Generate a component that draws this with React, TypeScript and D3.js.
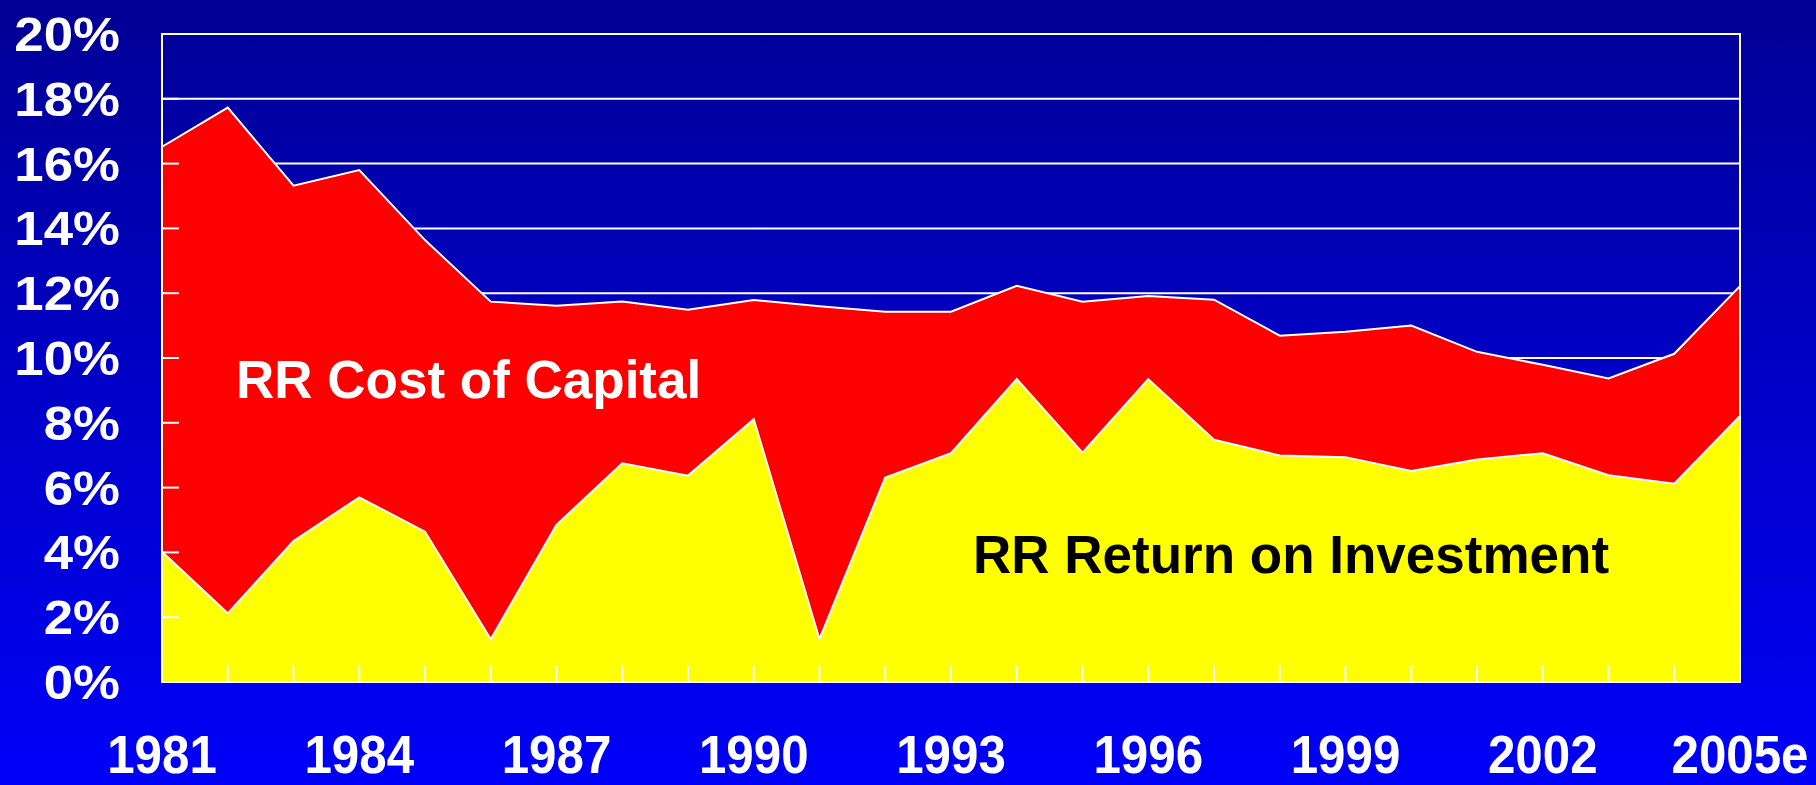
import React, { useEffect, useRef } from 'react';
import * as d3 from 'd3';

// years on the x axis (last one is an estimate)
const years = [
  '1981', '1982', '1983', '1984', '1985', '1986', '1987', '1988', '1989', '1990',
  '1991', '1992', '1993', '1994', '1995', '1996', '1997', '1998', '1999', '2000',
  '2001', '2002', '2003', '2004', '2005e',
];

// railroad cost of capital, %
const costOfCapital = [
  16.52, 17.73, 15.32, 15.8, 13.64, 11.74, 11.61, 11.74, 11.49, 11.79,
  11.6, 11.43, 11.43, 12.23, 11.74, 11.91, 11.8, 10.69, 10.81, 11.0,
  10.19, 9.79, 9.37, 10.13, 12.22,
];

// railroad return on investment, %
const returnOnInvestment = [
  4.02, 2.12, 4.35, 5.7, 4.64, 1.32, 4.85, 6.75, 6.37, 8.11,
  1.32, 6.31, 7.06, 9.35, 7.08, 9.35, 7.48, 6.99, 6.94, 6.51,
  6.87, 7.06, 6.38, 6.12, 8.21,
];

const yTicks = [0, 2, 4, 6, 8, 10, 12, 14, 16, 18, 20];
const labelEvery = 3;

const W = 1816;
const H = 785;

const App: React.FC = () => {
  const svgRef = useRef<SVGSVGElement>(null);

  useEffect(() => {
    if (!svgRef.current) return;
    const margin = { top: 34, right: 76, bottom: 103, left: 162 };
    const svg = d3.select(svgRef.current);
    svg.selectAll('*').remove();

    const defs = svg.append('defs');
    const grad = defs.append('linearGradient')
      .attr('id', 'bg').attr('x1', 0).attr('y1', 0).attr('x2', 0).attr('y2', 1);
    grad.append('stop').attr('offset', '0%').attr('stop-color', '#000094');
    grad.append('stop').attr('offset', '45%').attr('stop-color', '#0000c4');
    grad.append('stop').attr('offset', '100%').attr('stop-color', '#0000f8');

    svg.append('rect').attr('width', W).attr('height', H).attr('fill', 'url(#bg)');

    const x = d3.scalePoint<string>()
      .domain(years)
      .range([margin.left, W - margin.right]);

    const y = d3.scaleLinear()
      .domain([0, 20])
      .range([H - margin.bottom, margin.top]);

    const data = years.map((yr, i) => ({ yr, coc: costOfCapital[i], roi: returnOnInvestment[i] }));

    // gridlines (behind the areas)
    svg.append('g')
      .selectAll('line')
      .data(yTicks)
      .join('line')
      .attr('x1', x.range()[0])
      .attr('x2', x.range()[1])
      .attr('y1', d => y(d))
      .attr('y2', d => y(d))
      .attr('stroke', '#fff')
      .attr('stroke-width', 2);

    const cocArea = d3.area<typeof data[number]>()
      .x(d => x(d.yr)!)
      .y0(y(0))
      .y1(d => y(d.coc));
    const roiArea = d3.area<typeof data[number]>()
      .x(d => x(d.yr)!)
      .y0(y(0))
      .y1(d => y(d.roi));

    svg.append('path').datum(data).attr('d', cocArea).attr('fill', '#ff0000');
    svg.append('path').datum(data).attr('d', roiArea).attr('fill', '#ffff00');

    const cocLine = d3.line<typeof data[number]>().x(d => x(d.yr)!).y(d => y(d.coc));
    const roiLine = d3.line<typeof data[number]>().x(d => x(d.yr)!).y(d => y(d.roi));
    svg.append('path').datum(data).attr('d', cocLine)
      .attr('fill', 'none').attr('stroke', '#fff').attr('stroke-width', 2);
    svg.append('path').datum(data).attr('d', roiLine)
      .attr('fill', 'none').attr('stroke', '#fff').attr('stroke-width', 2);

    // frame
    svg.append('rect')
      .attr('x', x.range()[0])
      .attr('y', y(20))
      .attr('width', x.range()[1] - x.range()[0])
      .attr('height', y(0) - y(20))
      .attr('fill', 'none')
      .attr('stroke', '#fff')
      .attr('stroke-width', 2);

    // inward tick marks
    svg.append('g')
      .selectAll('line')
      .data(yTicks)
      .join('line')
      .attr('x1', x.range()[0])
      .attr('x2', x.range()[0] + 17)
      .attr('y1', d => y(d))
      .attr('y2', d => y(d))
      .attr('stroke', '#fff')
      .attr('stroke-width', 2);

    svg.append('g')
      .selectAll('line')
      .data(years)
      .join('line')
      .attr('x1', d => x(d)!)
      .attr('x2', d => x(d)!)
      .attr('y1', y(0))
      .attr('y2', y(0) - 17)
      .attr('stroke', '#fff')
      .attr('stroke-width', 2);

    const font = "'Liberation Sans', Arial, sans-serif";

    // y labels
    svg.append('g')
      .selectAll('text')
      .data(yTicks)
      .join('text')
      .attr('transform', d => `translate(120,${y(d) + 17}) scale(1.1,1)`)
      .attr('text-anchor', 'end')
      .attr('fill', '#fff')
      .style('font-family', font)
      .style('font-weight', 'bold')
      .style('font-size', '48px')
      .text(d => `${d}%`);

    // x labels
    svg.append('g')
      .selectAll('text')
      .data(years.filter((_, i) => i % labelEvery === 0))
      .join('text')
      .attr('transform', d => `translate(${x(d)},773) scale(0.93,1)`)
      .attr('text-anchor', 'middle')
      .attr('fill', '#fff')
      .style('font-family', font)
      .style('font-weight', 'bold')
      .style('font-size', '53px')
      .text(d => d);

    // series labels
    svg.append('text')
      .attr('x', 236)
      .attr('y', 398)
      .attr('fill', '#fff')
      .style('font-family', font)
      .style('font-weight', 'bold')
      .style('font-size', '53px')
      .text('RR Cost of Capital');

    svg.append('text')
      .attr('x', 973)
      .attr('y', 573)
      .attr('fill', '#000')
      .style('font-family', font)
      .style('font-weight', 'bold')
      .style('font-size', '53px')
      .text('RR Return on Investment');
  }, []);

  return (
    <svg
      ref={svgRef}
      width={W}
      height={H}
      style={{ position: 'fixed', left: 0, top: 0, display: 'block' }}
    />
  );
};

export default App;
